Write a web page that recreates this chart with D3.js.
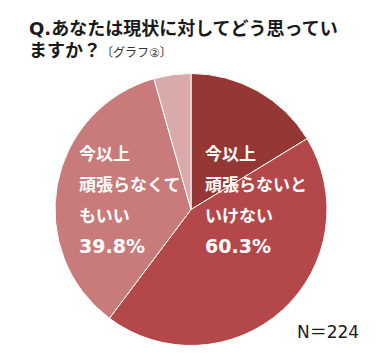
<!DOCTYPE html>
<html>
<head>
<meta charset="utf-8">
<script src="https://cdn.jsdelivr.net/npm/d3@7"></script>
<style>
  body { margin: 0; background: #fff; }
  svg { display: block; }
</style>
</head>
<body>
<div id="chart"></div>
<script>
// slices, clockwise from 12 o'clock
const categories = [
    "今以上頑張らないといけない",
    "どちらかといえば今以上頑張らないといけない",
    "どちらかといえば今以上頑張らなくてもいい",
    "今以上頑張らなくてもいい"
]
const values = [16.3, 44.0, 35.4, 4.4]
const colors = ["#953735", "#B4474A", "#C97A7A", "#D9AAAA"]

const groupLabels = [
    ["今以上", "頑張らないと", "いけない", "60.3%"],
    ["今以上", "頑張らなくて", "もいい", "39.8%"]
]

const CONFIG = { width: 384, height: 360, cx: 191, cy: 209.5, r: 136 }
const jpFont = '"DejaVu Sans", "Noto Sans CJK JP", sans-serif'

const svg = d3.select('#chart')
    .append('svg')
    .attr('width', CONFIG.width)
    .attr('height', CONFIG.height)

// title
const title = svg.append('g')
    .attr('font-family', jpFont)
    .attr('fill', '#1a1a1a')

title.append('text')
    .attr('x', 29)
    .attr('y', 35)
    .attr('font-size', '18px')
    .attr('font-weight', 'bold')
    .text('Q.あなたは現状に対してどう思ってい')

const line2 = title.append('text')
    .attr('x', 29)
    .attr('y', 57)
    .attr('font-size', '18px')
    .attr('font-weight', 'bold')
    .text('ますか？')
line2.append('tspan')
    .attr('font-size', '12px')
    .attr('font-weight', 'normal')
    .attr('fill', '#333')
    .text('〔グラフ②〕')

// pie
const pie = d3.pie().sort(null).value(d => d)
const arc = d3.arc().innerRadius(0).outerRadius(CONFIG.r)

const g = svg.append('g')
    .attr('transform', `translate(${CONFIG.cx}, ${CONFIG.cy})`)

g.selectAll('path')
    .data(pie(values))
    .enter()
    .append('path')
    .attr('d', arc)
    .attr('fill', (d, i) => colors[i])
    .attr('stroke', '#fff')
    .attr('stroke-width', 1)

// group labels
const labelPos = [
    { x: 14, y: -50 },
    { x: -112, y: -50 }
]
const lineGap = 31

groupLabels.forEach((lines, k) => {
    const t = g.append('text')
        .attr('font-family', jpFont)
        .attr('font-size', '17px')
        .attr('font-weight', 'bold')
        .attr('fill', '#fff')
    lines.forEach((s, i) => {
        t.append('tspan')
            .attr('x', labelPos[k].x)
            .attr('y', labelPos[k].y + i * lineGap)
            .attr('font-size', s.endsWith('%') ? '19px' : null)
            .text(s)
    })
})

// sample size
svg.append('text')
    .attr('x', 297)
    .attr('y', 338)
    .attr('font-family', jpFont)
    .attr('font-size', '17px')
    .attr('fill', '#1a1a1a')
    .text('N＝224')
</script>
</body>
</html>
